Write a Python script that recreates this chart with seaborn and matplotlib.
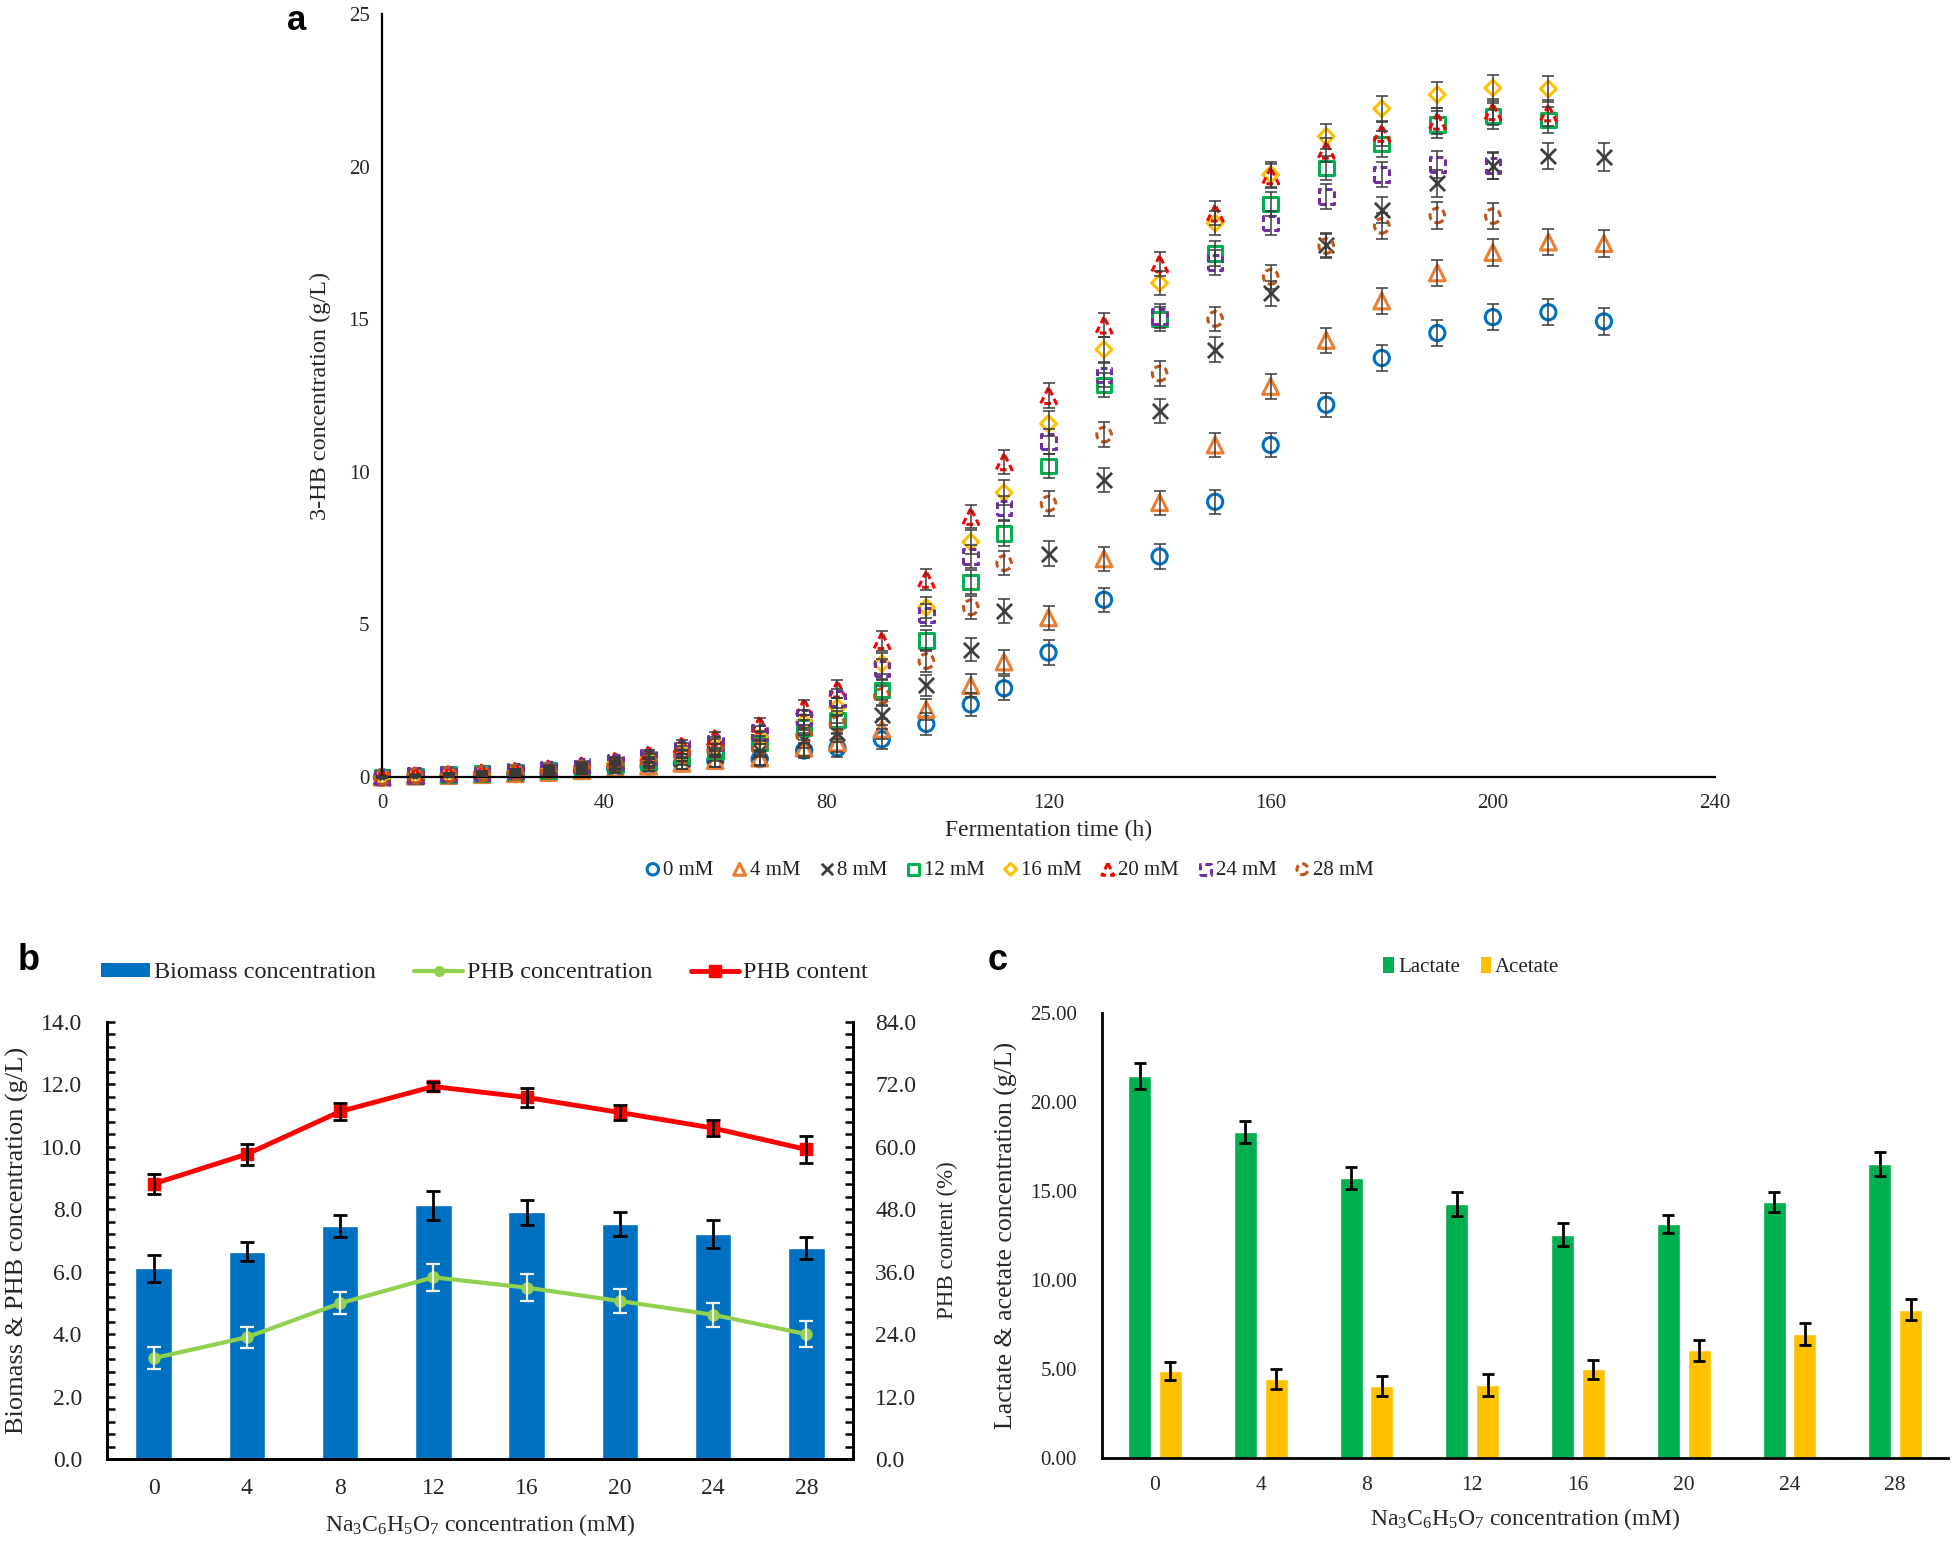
import numpy as np
import pandas as pd
import matplotlib
matplotlib.use("Agg")
import matplotlib.pyplot as plt
import seaborn as sns
from matplotlib.lines import Line2D
from matplotlib.patches import Patch
from matplotlib.ticker import MultipleLocator, FormatStrFormatter

# ---------------- data: panel a ----------------
time_h = [0, 6, 12, 18, 24, 30, 36, 42, 48, 54, 60, 68, 76, 82, 90, 98, 106, 112,
          120, 130, 140, 150, 160, 170, 180, 190, 200, 210, 220]
hb_0mM = [0, 0.03, 0.05, 0.08, 0.10, 0.14, 0.20, 0.27, 0.35, 0.45, 0.54, 0.59, 0.87, 0.95,
          1.24, 1.74, 2.38, 2.91, 4.08, 5.81, 7.23, 9.02, 10.88, 12.20, 13.73, 14.55, 15.07,
          15.23, 14.93]
hb_4mM = [0, 0.03, 0.05, 0.08, 0.11, 0.15, 0.21, 0.28, 0.36, 0.45, 0.54, 0.62, 0.95, 1.12,
          1.57, 2.21, 3.00, 3.77, 5.22, 7.15, 8.99, 10.88, 12.80, 14.31, 15.60, 16.52, 17.19,
          17.53, 17.48]
hb_8mM = [0, 0.04, 0.07, 0.10, 0.14, 0.19, 0.26, 0.35, 0.45, 0.59, 0.74, 0.87, 1.20, 1.46,
          2.04, 3.01, 4.17, 5.44, 7.32, 9.74, 12.00, 14.01, 15.85, 17.44, 18.58, 19.45, 20.02,
          20.34, 20.32]
hb_12mM = [0, 0.04, 0.08, 0.12, 0.16, 0.22, 0.30, 0.40, 0.52, 0.70, 0.87, 1.12, 1.62, 1.87,
           2.85, 4.47, 6.39, 7.98, 10.19, 12.84, 15.01, 17.16, 18.78, 19.95, 20.74, 21.38,
           21.66, 21.53]
hb_16mM = [0, 0.05, 0.09, 0.13, 0.18, 0.25, 0.34, 0.45, 0.60, 0.84, 1.04, 1.29, 1.79, 2.29,
           3.72, 5.56, 7.70, 9.32, 11.58, 14.01, 16.19, 18.15, 19.74, 20.99, 21.90, 22.36,
           22.58, 22.55]
hb_20mM = [0, 0.06, 0.11, 0.16, 0.22, 0.30, 0.40, 0.55, 0.75, 1.04, 1.29, 1.71, 2.29, 2.88,
           4.47, 6.48, 8.54, 10.33, 12.50, 14.81, 16.82, 18.48, 19.70, 20.54, 21.09, 21.49,
           21.80, 21.76]
hb_24mM = [0, 0.05, 0.10, 0.14, 0.20, 0.27, 0.37, 0.50, 0.66, 0.95, 1.12, 1.46, 1.96, 2.58,
           3.55, 5.31, 7.23, 8.82, 11.00, 13.17, 15.10, 16.86, 18.16, 19.03, 19.75, 20.07,
           20.04]
hb_28mM = [0, 0.04, 0.08, 0.11, 0.15, 0.21, 0.28, 0.38, 0.50, 0.70, 0.87, 0.95, 1.37, 1.74,
           2.66, 3.80, 5.56, 7.01, 8.96, 11.22, 13.22, 15.01, 16.39, 17.40, 18.06, 18.40,
           18.38]
hb_err = [0.02, 0.03, 0.04, 0.05, 0.06, 0.08, 0.10, 0.12, 0.15, 0.18, 0.20, 0.22, 0.25, 0.30,
          0.33, 0.35, 0.38, 0.40, 0.40, 0.40, 0.40, 0.40, 0.40, 0.40, 0.42, 0.43, 0.43, 0.43, 0.45]
series_labels = ["0 mM", "4 mM", "8 mM", "12 mM", "16 mM", "20 mM", "24 mM", "28 mM"]

# ---------------- data: panels b, c ----------------
citrate = ["0", "4", "8", "12", "16", "20", "24", "28"]
biomass = [6.11, 6.64, 7.46, 8.13, 7.90, 7.53, 7.22, 6.75]
biomass_err = [0.43, 0.31, 0.36, 0.46, 0.41, 0.39, 0.45, 0.35]
phb_conc = [3.23, 3.90, 4.99, 5.82, 5.49, 5.06, 4.62, 4.00]
phb_conc_err = [0.36, 0.33, 0.35, 0.43, 0.43, 0.37, 0.39, 0.41]
phb_content = [52.9, 58.6, 66.8, 71.6, 69.5, 66.6, 63.6, 59.5]
phb_content_err = [1.9, 2.0, 1.7, 0.8, 1.8, 1.5, 1.5, 2.6]
lactate = [21.46, 18.30, 15.72, 14.26, 12.55, 13.14, 14.39, 16.53]
lactate_err = [0.73, 0.62, 0.63, 0.66, 0.66, 0.52, 0.58, 0.69]
acetate = [4.91, 4.43, 4.04, 4.10, 4.98, 6.05, 6.97, 8.34]
acetate_err = [0.51, 0.55, 0.55, 0.62, 0.55, 0.60, 0.60, 0.60]

# ---------------- style ----------------
sns.set_theme(style="white")
plt.rcParams["font.family"] = ["Liberation Serif", "DejaVu Serif"]
plt.rcParams["mathtext.fontset"] = "custom"
plt.rcParams["mathtext.rm"] = "Liberation Serif"
plt.rcParams["mathtext.it"] = "Liberation Serif:italic"
plt.rcParams["axes.edgecolor"] = "black"
plt.rcParams["text.color"] = "#222222"

fig = plt.figure(figsize=(19.54, 15.48), dpi=100)
fig.patch.set_facecolor("white")

# ============ panel a ============
axA = fig.add_axes([0.1955, 0.498, 0.6822, 0.4929])
hb_series = [hb_0mM, hb_4mM, hb_8mM, hb_12mM, hb_16mM, hb_20mM, hb_24mM, hb_28mM]
colors_a = ["#0070C0", "#ED7D31", "#404040", "#00B050", "#FFC000", "#FF0000", "#7030A0", "#C0561A"]
markers_a = ["o", "^", "x", "s", "D", "^", "s", "o"]
sizes_a = [120, 130, 120, 110, 65, 130, 110, 110]
dashed_a = [False, False, False, False, False, True, True, True]
handles_a = []
for vals, lab, col, mk, sz, dsh in zip(hb_series, series_labels, colors_a, markers_a, sizes_a, dashed_a):
    t = time_h[:len(vals)]
    ls = (0, (2.2, 1.3)) if dsh else "solid"
    if mk == "x":
        sc = axA.scatter(t, vals, marker=mk, s=sz, c=col, linewidths=2.0, zorder=2, clip_on=False)
    else:
        sc = axA.scatter(t, vals, marker=mk, s=sz, facecolors="none", edgecolors=col,
                         linewidths=2.2, linestyle=ls, zorder=2, clip_on=False)
    axA.errorbar(t, vals, yerr=hb_err[:len(vals)], fmt="none", ecolor="#3a3a3a",
                 elinewidth=1.1, capsize=4, capthick=1.1, zorder=3, clip_on=False)
    handles_a.append(sc)

axA.set_xlim(0, 240)
axA.set_ylim(0, 25)
axA.xaxis.set_major_locator(MultipleLocator(40))
axA.xaxis.set_minor_locator(MultipleLocator(8))
axA.yaxis.set_major_locator(MultipleLocator(5))
axA.yaxis.set_minor_locator(MultipleLocator(1))
axA.tick_params(which="both", direction="in", color="black", width=1.3)
axA.tick_params(which="major", length=5)
axA.tick_params(which="minor", length=4)
axA.tick_params(axis="x", which="major", labelsize=15, pad=12)
axA.tick_params(axis="y", which="major", labelsize=15, pad=9)
for s in ["top", "right"]:
    axA.spines[s].set_visible(False)
for s in ["left", "bottom"]:
    axA.spines[s].set_linewidth(1.6)
axA.set_xlabel("Fermentation time (h)", fontsize=17)
axA.set_ylabel("3-HB concentration (g/L)", fontsize=17.5)
axA.xaxis.set_label_coords(0.5, -0.056)
axA.yaxis.set_label_coords(-0.038, 0.5)
fig.legend(handles_a, series_labels, loc="center", bbox_to_anchor=(0.5164, 0.438), ncol=8,
           frameon=False, fontsize=15, handlelength=0.8, handletextpad=0.1, columnspacing=0.85,
           markerscale=0.75, scatterpoints=1)

# ============ panel b ============
axB = fig.add_axes([0.05476, 0.0575, 0.3818, 0.2823])
df_b = pd.DataFrame({"conc": citrate, "biomass": biomass})
sns.barplot(data=df_b, x="conc", y="biomass", color="#0070C0", saturation=1, width=0.39,
            errorbar=None, ax=axB, zorder=1)
xb = [p.get_x() + p.get_width() / 2 for p in axB.patches]
axB.errorbar(xb, biomass, yerr=biomass_err, fmt="none", ecolor="black", elinewidth=2,
             capsize=5, capthick=2, zorder=3)
axB.plot(xb, phb_conc, color="#92D050", lw=3, marker="o", ms=8, zorder=4)
axB.errorbar(xb, phb_conc, yerr=phb_conc_err, fmt="none", ecolor="#F4F4F4", elinewidth=1.6,
             capsize=5, capthick=1.6, zorder=5)
axB.set_xlim(-0.5, 7.5)
axB.set_ylim(0, 14)
axB.yaxis.set_major_locator(MultipleLocator(2))
axB.yaxis.set_minor_locator(MultipleLocator(0.4))
axB.yaxis.set_major_formatter(FormatStrFormatter("%.1f"))
axB.tick_params(axis="y", which="both", direction="in", length=6, width=1.8, color="black",
                labelsize=17, pad=18)
axB.tick_params(axis="x", length=0, labelsize=17, pad=14)
axB.set_xlabel(r"Na$_3$C$_6$H$_5$O$_7$ concentration (mM)", fontsize=17)
axB.set_ylabel("Biomass & PHB concentration (g/L)", fontsize=19)
axB.xaxis.set_label_coords(0.5, -0.121)
axB.yaxis.set_label_coords(-0.104, 0.5)

axB2 = axB.twinx()
axB2.plot(xb, phb_content, color="#FF0000", lw=3.5, marker="s", ms=8, zorder=4)
axB2.errorbar(xb, phb_content, yerr=phb_content_err, fmt="none", ecolor="black", elinewidth=2,
              capsize=5, capthick=2, zorder=5)
axB2.set_ylim(0, 84)
axB2.yaxis.set_major_locator(MultipleLocator(12))
axB2.yaxis.set_minor_locator(MultipleLocator(2.4))
axB2.yaxis.set_major_formatter(FormatStrFormatter("%.1f"))
axB2.tick_params(axis="y", which="both", direction="in", length=6, width=1.8, color="black",
                 labelsize=17, pad=16)
axB2.set_ylabel("PHB content (%)", fontsize=16.5)
axB2.yaxis.set_label_coords(1.113, 0.5)
for ax in (axB, axB2):
    ax.spines["top"].set_visible(False)
    for s in ["left", "right", "bottom"]:
        ax.spines[s].set_linewidth(2)
axB2.grid(False)
axB.grid(False)

handles_b = [Patch(facecolor="#0070C0", edgecolor="none"),
             Line2D([], [], color="#92D050", lw=3, marker="o", ms=7),
             Line2D([], [], color="#FF0000", lw=3.5, marker="s", ms=8)]
fig.legend(handles_b, ["Biomass concentration", "PHB concentration", "PHB content"],
           loc="center", bbox_to_anchor=(0.248, 0.3715), ncol=3, frameon=False, fontsize=17.5,
           handlelength=2.0, handleheight=0.5, handletextpad=0.15, columnspacing=1.6)

# ============ panel c ============
axC = fig.add_axes([0.564, 0.0581, 0.433, 0.2875])
df_c = pd.DataFrame({
    "conc": citrate * 2,
    "value": lactate + acetate,
    "acid": ["Lactate"] * len(citrate) + ["Acetate"] * len(citrate),
})
pal_c = ["#00B050", "#FFC000"]
sns.barplot(data=df_c, x="conc", y="value", hue="acid", palette=pal_c, width=0.58, gap=0.25,
            saturation=1, errorbar=None, ax=axC, legend=False, zorder=1)
for cont, errs, vals in zip(axC.containers, [lactate_err, acetate_err], [lactate, acetate]):
    xc = [b.get_x() + b.get_width() / 2 for b in cont]
    axC.errorbar(xc, vals, yerr=errs, fmt="none", ecolor="black", elinewidth=2, capsize=4,
                 capthick=2, zorder=3)
axC.set_xlim(-0.5, 7.5)
axC.set_ylim(0, 25)
axC.yaxis.set_major_locator(MultipleLocator(5))
axC.yaxis.set_minor_locator(MultipleLocator(1))
axC.yaxis.set_major_formatter(FormatStrFormatter("%.2f"))
axC.tick_params(axis="y", which="both", direction="in", length=6, width=1.8, color="black",
                labelsize=15, pad=18)
axC.tick_params(axis="x", length=0, labelsize=15.5, pad=13)
for s in ["top", "right"]:
    axC.spines[s].set_visible(False)
for s in ["left", "bottom"]:
    axC.spines[s].set_linewidth(2)
axC.grid(False)
axC.set_xlabel(r"Na$_3$C$_6$H$_5$O$_7$ concentration (mM)", fontsize=17)
axC.set_ylabel("Lactate & acetate concentration (g/L)", fontsize=18.5)
axC.xaxis.set_label_coords(0.5, -0.108)
axC.yaxis.set_label_coords(-0.099, 0.5)
handles_c = [Patch(facecolor=c, edgecolor="none") for c in pal_c]
fig.legend(handles_c, ["Lactate", "Acetate"], loc="center", bbox_to_anchor=(0.753, 0.3753),
           ncol=2, frameon=False, fontsize=15, handlelength=0.5, handleheight=0.8,
           handletextpad=0.2, columnspacing=1.0)

# ---------------- panel letters ----------------
fig.text(297 / 1954, 1 - 21 / 1548, "a", fontsize=25, fontweight="bold", family="Liberation Sans",
         ha="center", va="center", color="black")
fig.text(29 / 1954, 1 - 960 / 1548, "b", fontsize=26, fontweight="bold", family="Liberation Sans",
         ha="center", va="center", color="black")
fig.text(998 / 1954, 1 - 961 / 1548, "c", fontsize=26, fontweight="bold", family="Liberation Sans",
         ha="center", va="center", color="black")

fig.savefig("out.png", dpi=100, facecolor="white")
